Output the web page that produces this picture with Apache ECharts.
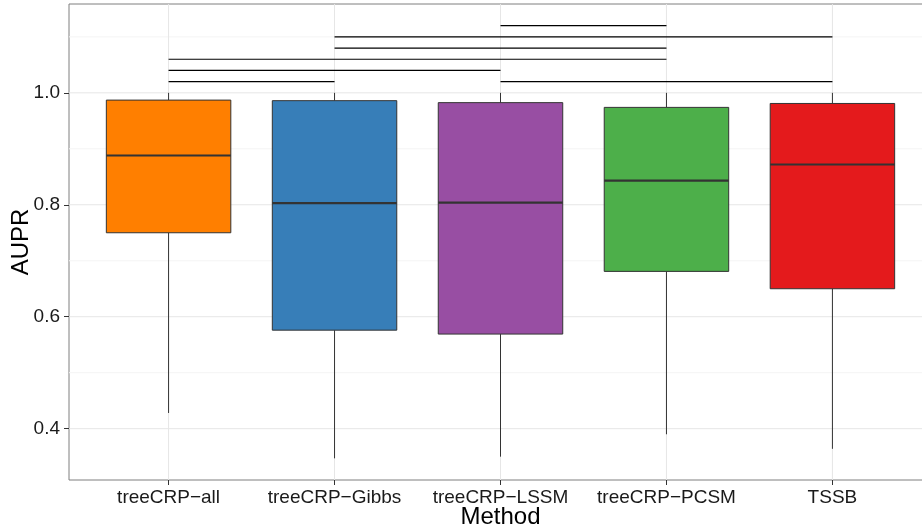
<!DOCTYPE html>
<html><head><meta charset="utf-8">
<script src="https://cdn.jsdelivr.net/npm/echarts@6/dist/echarts.min.js"></script>
<style>html,body{margin:0;padding:0;background:#fff}#c{width:922px;height:530px}</style>
</head><body><div id="c"></div>
<script>
const categories = ['treeCRP−all','treeCRP−Gibbs','treeCRP−LSSM','treeCRP−PCSM','TSSB'];
const boxColors = ['#FF7F00','#377EB8','#984EA3','#4DAF4A','#E41A1C'];
const lowerWhisker = [0.428, 0.347, 0.350, 0.390, 0.364];
const q1 = [0.750, 0.576, 0.569, 0.681, 0.650];
const median = [0.888, 0.803, 0.804, 0.843, 0.872];
const q3 = [0.987, 0.986, 0.9825, 0.974, 0.981];
const upperWhisker = [1.0, 1.0, 1.0, 1.0, 1.0];
// significance bars (1-based category positions) and their heights
const sigFrom = [1, 3, 1, 1, 2, 2, 3];
const sigTo = [2, 5, 3, 4, 4, 5, 4];
const sigHeight = [1.02, 1.02, 1.04, 1.06, 1.08, 1.10, 1.12];
const yTicks = [0.4, 0.6, 0.8, 1.0];
const yMinor = [0.5, 0.7, 0.9, 1.1];
const xTicks = [1, 2, 3, 4, 5];

const FONT = 'Liberation Sans';
const chart = echarts.init(document.getElementById('c'), null, {renderer: 'canvas'});

const boxData = categories.map((c, i) => [i + 1, lowerWhisker[i], q1[i], median[i], q3[i], upperWhisker[i]]);
const sigData = sigFrom.map((f, i) => [f, sigHeight[i], sigTo[i]]);
const gridData = [
  ...yMinor.map(v => [0, v, 0]),
  ...yTicks.map(v => [0, v, 1]),
  ...xTicks.map(v => [v, 0, 2])
];

chart.setOption({
  animation: false,
  backgroundColor: '#ffffff',
  grid: {left: 69, right: -10, top: 4, bottom: 50, show: true, borderColor: '#7f7f7f', borderWidth: 1, backgroundColor: '#ffffff', containLabel: false, outerBoundsMode: 'none'},
  xAxis: {
    type: 'value', min: 0.4, max: 5.6,
    name: 'Method', nameLocation: 'middle', nameGap: 25, nameMoveOverlap: false,
    nameTextStyle: {fontFamily: FONT, fontSize: 24, color: '#000'},
    axisLine: {show: false},
    axisTick: {show: true, customValues: xTicks, length: 5, lineStyle: {color: '#333'}},
    axisLabel: {customValues: xTicks, formatter: v => categories[Math.round(v) - 1], fontFamily: FONT, fontSize: 19, color: '#1a1a1a', margin: 8},
    splitLine: {show: false}
  },
  yAxis: {
    type: 'value', min: 0.3083, max: 1.1587,
    name: 'AUPR', nameLocation: 'middle', nameGap: 36, nameMoveOverlap: false,
    nameTextStyle: {fontFamily: FONT, fontSize: 24, color: '#000'},
    axisLine: {show: false},
    axisTick: {show: true, customValues: yTicks, length: 5, lineStyle: {color: '#333'}},
    axisLabel: {customValues: yTicks, formatter: v => v.toFixed(1), fontFamily: FONT, fontSize: 19, color: '#1a1a1a', margin: 9},
    splitLine: {show: false}
  },
  series: [
    {
      type: 'custom', z: 1, silent: true,
      encode: {x: 0, y: 1},
      data: gridData,
      renderItem: (params, api) => {
        const cs = params.coordSys;
        const kind = api.value(2);
        if (kind === 2) {
          const p = api.coord([api.value(0), 0.5]);
          return {type: 'line', shape: {x1: p[0], y1: cs.y, x2: p[0], y2: cs.y + cs.height}, style: {stroke: '#e6e6e6', lineWidth: 1}};
        }
        const p = api.coord([1, api.value(1)]);
        return {type: 'line', shape: {x1: cs.x, y1: p[1], x2: cs.x + cs.width, y2: p[1]}, style: {stroke: kind === 1 ? '#e6e6e6' : '#f4f4f4', lineWidth: 1}};
      }
    },
    {
      type: 'custom', z: 3, silent: true,
      encode: {x: 0, y: [1, 2, 3, 4, 5]},
      data: boxData,
      renderItem: (params, api) => {
        const i = params.dataIndex;
        const x = api.value(0);
        const hw = 0.375;
        const pLow = api.coord([x, api.value(1)]);
        const pQ1 = api.coord([x, api.value(2)]);
        const pMed = api.coord([x, api.value(3)]);
        const pQ3 = api.coord([x, api.value(4)]);
        const pHigh = api.coord([x, api.value(5)]);
        const xl = api.coord([x - hw, 0.5])[0];
        const xr = api.coord([x + hw, 0.5])[0];
        return {type: 'group', children: [
          {type: 'line', shape: {x1: pQ3[0], y1: pQ3[1], x2: pHigh[0], y2: pHigh[1]}, style: {stroke: '#333333', lineWidth: 1}},
          {type: 'line', shape: {x1: pQ1[0], y1: pQ1[1], x2: pLow[0], y2: pLow[1]}, style: {stroke: '#333333', lineWidth: 1}},
          {type: 'rect', shape: {x: xl, y: pQ3[1], width: xr - xl, height: pQ1[1] - pQ3[1]}, style: {fill: boxColors[i], stroke: '#333333', lineWidth: 1}},
          {type: 'line', shape: {x1: xl, y1: pMed[1], x2: xr, y2: pMed[1]}, style: {stroke: '#333333', lineWidth: 2.2}}
        ]};
      }
    },
    {
      type: 'custom', z: 4, silent: true,
      encode: {x: [0, 2], y: 1},
      data: sigData,
      renderItem: (params, api) => {
        const a = api.coord([api.value(0), api.value(1)]);
        const b = api.coord([api.value(2), api.value(1)]);
        return {type: 'line', shape: {x1: a[0], y1: a[1], x2: b[0], y2: b[1]}, style: {stroke: '#000000', lineWidth: 1.2}};
      }
    }
  ]
});
</script></body></html>
